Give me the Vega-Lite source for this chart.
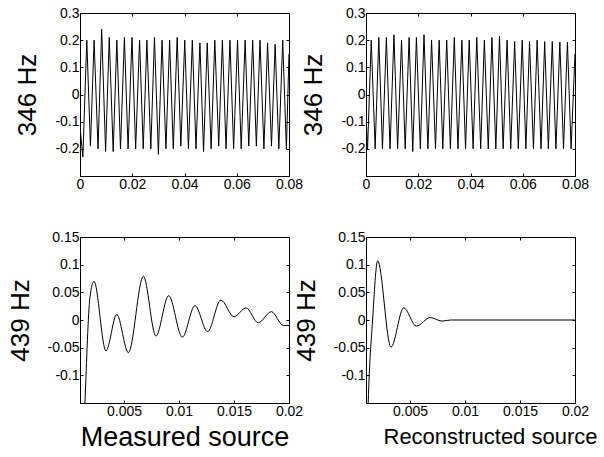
{
  "$schema": "https://vega.github.io/schema/vega-lite/v6.json",
  "background": "white",
  "padding": {"left": 6, "top": 5, "right": 0, "bottom": 5},
  "config": {
    "font": "Liberation Sans",
    "view": {"stroke": "black", "strokeWidth": 1},
    "axis": {
      "domainColor": "black", "tickColor": "black", "labelColor": "black", "titleColor": "black",
      "labelFont": "Liberation Sans", "titleFont": "Liberation Sans",
      "labelFontSize": 14, "titleFontSize": 26, "titleFontWeight": "normal",
      "grid": false, "tickSize": -3, "labelPadding": 4, "labelFlush": false,
      "labelExpr": "'' + datum.value"
    },
    "axisX": {"titlePadding": 6},
    "axisY": {"titlePadding": 14},
    "line": {"color": "black", "strokeWidth": 1}
  },
  "datasets": {
    "m346": [
      {"t": 0, "v": -0.12}, {"t": 0.0011, "v": -0.23},
      {"t": 0.0026, "v": 0.2}, {"t": 0.0040, "v": -0.19},
      {"t": 0.0054, "v": 0.2}, {"t": 0.0069, "v": -0.2},
      {"t": 0.0083, "v": 0.24}, {"t": 0.0098, "v": -0.21},
      {"t": 0.0112, "v": 0.21}, {"t": 0.0127, "v": -0.21},
      {"t": 0.0141, "v": 0.2}, {"t": 0.0155, "v": -0.2},
      {"t": 0.0170, "v": 0.21}, {"t": 0.0184, "v": -0.2},
      {"t": 0.0199, "v": 0.21}, {"t": 0.0213, "v": -0.2},
      {"t": 0.0228, "v": 0.2}, {"t": 0.0242, "v": -0.2},
      {"t": 0.0256, "v": 0.2}, {"t": 0.0271, "v": -0.2},
      {"t": 0.0285, "v": 0.21}, {"t": 0.0300, "v": -0.22},
      {"t": 0.0314, "v": 0.2}, {"t": 0.0329, "v": -0.2},
      {"t": 0.0343, "v": 0.2}, {"t": 0.0357, "v": -0.2},
      {"t": 0.0372, "v": 0.21}, {"t": 0.0386, "v": -0.19},
      {"t": 0.0401, "v": 0.2}, {"t": 0.0415, "v": -0.2},
      {"t": 0.0430, "v": 0.2}, {"t": 0.0444, "v": -0.2},
      {"t": 0.0459, "v": 0.19}, {"t": 0.0473, "v": -0.21},
      {"t": 0.0487, "v": 0.19}, {"t": 0.0502, "v": -0.2},
      {"t": 0.0516, "v": 0.2}, {"t": 0.0531, "v": -0.19},
      {"t": 0.0545, "v": 0.2}, {"t": 0.0559, "v": -0.2},
      {"t": 0.0574, "v": 0.2}, {"t": 0.0588, "v": -0.2},
      {"t": 0.0603, "v": 0.2}, {"t": 0.0617, "v": -0.2},
      {"t": 0.0632, "v": 0.2}, {"t": 0.0646, "v": -0.19},
      {"t": 0.0661, "v": 0.2}, {"t": 0.0675, "v": -0.19},
      {"t": 0.0689, "v": 0.2}, {"t": 0.0704, "v": -0.2},
      {"t": 0.0718, "v": 0.19}, {"t": 0.0733, "v": -0.19},
      {"t": 0.0747, "v": 0.185}, {"t": 0.0761, "v": -0.2},
      {"t": 0.0776, "v": 0.2}, {"t": 0.0790, "v": -0.2},
      {"t": 0.0800, "v": 0.15}
    ],
    "r346": [
      {"t": 0, "v": -0.08}, {"t": 0.0006, "v": -0.2},
      {"t": 0.0020, "v": 0.2}, {"t": 0.0035, "v": -0.2},
      {"t": 0.0049, "v": 0.21}, {"t": 0.0063, "v": -0.2},
      {"t": 0.0078, "v": 0.21}, {"t": 0.0092, "v": -0.2},
      {"t": 0.0107, "v": 0.22}, {"t": 0.0121, "v": -0.2},
      {"t": 0.0136, "v": 0.2}, {"t": 0.0150, "v": -0.2},
      {"t": 0.0165, "v": 0.21}, {"t": 0.0179, "v": -0.21},
      {"t": 0.0193, "v": 0.21}, {"t": 0.0208, "v": -0.2},
      {"t": 0.0222, "v": 0.22}, {"t": 0.0237, "v": -0.2},
      {"t": 0.0251, "v": 0.2}, {"t": 0.0266, "v": -0.2},
      {"t": 0.0280, "v": 0.2}, {"t": 0.0294, "v": -0.2},
      {"t": 0.0309, "v": 0.2}, {"t": 0.0323, "v": -0.2},
      {"t": 0.0338, "v": 0.21}, {"t": 0.0352, "v": -0.2},
      {"t": 0.0367, "v": 0.2}, {"t": 0.0381, "v": -0.2},
      {"t": 0.0395, "v": 0.2}, {"t": 0.0410, "v": -0.2},
      {"t": 0.0424, "v": 0.21}, {"t": 0.0439, "v": -0.2},
      {"t": 0.0453, "v": 0.2}, {"t": 0.0468, "v": -0.2},
      {"t": 0.0482, "v": 0.21}, {"t": 0.0497, "v": -0.2},
      {"t": 0.0511, "v": 0.215}, {"t": 0.0525, "v": -0.2},
      {"t": 0.0540, "v": 0.2}, {"t": 0.0554, "v": -0.2},
      {"t": 0.0569, "v": 0.195}, {"t": 0.0583, "v": -0.2},
      {"t": 0.0598, "v": 0.2}, {"t": 0.0612, "v": -0.2},
      {"t": 0.0626, "v": 0.195}, {"t": 0.0641, "v": -0.2},
      {"t": 0.0655, "v": 0.2}, {"t": 0.0670, "v": -0.2},
      {"t": 0.0684, "v": 0.195}, {"t": 0.0698, "v": -0.2},
      {"t": 0.0713, "v": 0.195}, {"t": 0.0727, "v": -0.2},
      {"t": 0.0742, "v": 0.193}, {"t": 0.0756, "v": -0.2},
      {"t": 0.0771, "v": 0.193}, {"t": 0.0785, "v": -0.2},
      {"t": 0.0800, "v": 0.15}
    ],
    "m439": [
      {"t": 0.0011, "v": -0.35}, {"t": 0.00145, "v": -0.15},
      {"t": 0.0019, "v": 0.04}, {"t": 0.00227, "v": 0.07},
      {"t": 0.00336, "v": -0.056}, {"t": 0.00434, "v": 0.010},
      {"t": 0.0054, "v": -0.059}, {"t": 0.00676, "v": 0.079},
      {"t": 0.0079, "v": -0.029}, {"t": 0.00906, "v": 0.044},
      {"t": 0.0103, "v": -0.031}, {"t": 0.01145, "v": 0.026},
      {"t": 0.0126, "v": -0.021}, {"t": 0.0138, "v": 0.036},
      {"t": 0.0150, "v": 0.006}, {"t": 0.0161, "v": 0.022},
      {"t": 0.0172, "v": -0.005}, {"t": 0.0184, "v": 0.015},
      {"t": 0.0195, "v": -0.01}, {"t": 0.0200, "v": -0.01}
    ],
    "r439": [
      {"t": 0.001, "v": -0.3}, {"t": 0.0012, "v": -0.15},
      {"t": 0.0016, "v": 0.0}, {"t": 0.00206, "v": 0.107},
      {"t": 0.00327, "v": -0.049}, {"t": 0.00443, "v": 0.022},
      {"t": 0.00557, "v": -0.011}, {"t": 0.00685, "v": 0.0045},
      {"t": 0.0079, "v": -0.002}, {"t": 0.0087, "v": 0.0},
      {"t": 0.0200, "v": 0.0}
    ]
  },
  "columns": 2,
  "spacing": {"row": 61, "column": 77},
  "bounds": "flush",
  "concat": [
    {
      "data": {"name": "m346"},
      "width": 209, "height": 163,
      "layer": [
        {
          "mark": {"type": "line", "clip": true},
          "encoding": {
            "x": {"field": "t", "type": "quantitative", "scale": {"domain": [0, 0.08], "nice": false, "zero": false},
                  "axis": {"values": [0, 0.02, 0.04, 0.06, 0.08], "title": null}},
            "y": {"field": "v", "type": "quantitative", "scale": {"domain": [-0.3, 0.3], "nice": false, "zero": false},
                  "axis": {"values": [-0.2, -0.1, 0, 0.1, 0.2, 0.3], "title": "346 Hz"}}
          }
        },
        {
          "mark": {"type": "line", "clip": true, "opacity": 0},
          "encoding": {
            "x": {"field": "t", "type": "quantitative", "scale": {"domain": [0, 0.08], "nice": false, "zero": false},
                  "axis": {"orient": "top", "values": [0, 0.02, 0.04, 0.06, 0.08], "labels": false, "title": null}},
            "y": {"field": "v", "type": "quantitative", "scale": {"domain": [-0.3, 0.3], "nice": false, "zero": false},
                  "axis": {"orient": "right", "values": [-0.2, -0.1, 0, 0.1, 0.2, 0.3], "labels": false, "title": null}}
          }
        }
      ],
      "resolve": {"axis": {"x": "independent", "y": "independent"}}
    },
    {
      "data": {"name": "r346"},
      "width": 209, "height": 163,
      "layer": [
        {
          "mark": {"type": "line", "clip": true},
          "encoding": {
            "x": {"field": "t", "type": "quantitative", "scale": {"domain": [0, 0.08], "nice": false, "zero": false},
                  "axis": {"values": [0, 0.02, 0.04, 0.06, 0.08], "title": null}},
            "y": {"field": "v", "type": "quantitative", "scale": {"domain": [-0.3, 0.3], "nice": false, "zero": false},
                  "axis": {"values": [-0.2, -0.1, 0, 0.1, 0.2, 0.3], "title": "346 Hz"}}
          }
        },
        {
          "mark": {"type": "line", "clip": true, "opacity": 0},
          "encoding": {
            "x": {"field": "t", "type": "quantitative", "scale": {"domain": [0, 0.08], "nice": false, "zero": false},
                  "axis": {"orient": "top", "values": [0, 0.02, 0.04, 0.06, 0.08], "labels": false, "title": null}},
            "y": {"field": "v", "type": "quantitative", "scale": {"domain": [-0.3, 0.3], "nice": false, "zero": false},
                  "axis": {"orient": "right", "values": [-0.2, -0.1, 0, 0.1, 0.2, 0.3], "labels": false, "title": null}}
          }
        }
      ],
      "resolve": {"axis": {"x": "independent", "y": "independent"}}
    },
    {
      "data": {"name": "m439"},
      "width": 209, "height": 166,
      "layer": [
        {
          "mark": {"type": "line", "clip": true, "interpolate": "monotone"},
          "encoding": {
            "x": {"field": "t", "type": "quantitative", "scale": {"domain": [0.001, 0.02], "nice": false, "zero": false},
                  "axis": {"values": [0.005, 0.01, 0.015, 0.02], "title": "Measured source", "titleFontSize": 27}},
            "y": {"field": "v", "type": "quantitative", "scale": {"domain": [-0.15, 0.15], "nice": false, "zero": false},
                  "axis": {"values": [-0.1, -0.05, 0, 0.05, 0.1, 0.15], "title": "439 Hz"}}
          }
        },
        {
          "mark": {"type": "line", "clip": true, "opacity": 0, "interpolate": "monotone"},
          "encoding": {
            "x": {"field": "t", "type": "quantitative", "scale": {"domain": [0.001, 0.02], "nice": false, "zero": false},
                  "axis": {"orient": "top", "values": [0.005, 0.01, 0.015, 0.02], "labels": false, "title": null}},
            "y": {"field": "v", "type": "quantitative", "scale": {"domain": [-0.15, 0.15], "nice": false, "zero": false},
                  "axis": {"orient": "right", "values": [-0.1, -0.05, 0, 0.05, 0.1, 0.15], "labels": false, "title": null}}
          }
        }
      ],
      "resolve": {"axis": {"x": "independent", "y": "independent"}}
    },
    {
      "data": {"name": "r439"},
      "width": 209, "height": 166,
      "layer": [
        {
          "mark": {"type": "line", "clip": true, "interpolate": "monotone"},
          "encoding": {
            "x": {"field": "t", "type": "quantitative", "scale": {"domain": [0.001, 0.02], "nice": false, "zero": false},
                  "axis": {"values": [0.005, 0.01, 0.015, 0.02], "title": "Reconstructed source", "titleFontSize": 22, "titleX": 124, "titlePadding": 8}},
            "y": {"field": "v", "type": "quantitative", "scale": {"domain": [-0.15, 0.15], "nice": false, "zero": false},
                  "axis": {"values": [-0.1, -0.05, 0, 0.05, 0.1, 0.15], "title": "439 Hz"}}
          }
        },
        {
          "mark": {"type": "line", "clip": true, "opacity": 0, "interpolate": "monotone"},
          "encoding": {
            "x": {"field": "t", "type": "quantitative", "scale": {"domain": [0.001, 0.02], "nice": false, "zero": false},
                  "axis": {"orient": "top", "values": [0.005, 0.01, 0.015, 0.02], "labels": false, "title": null}},
            "y": {"field": "v", "type": "quantitative", "scale": {"domain": [-0.15, 0.15], "nice": false, "zero": false},
                  "axis": {"orient": "right", "values": [-0.1, -0.05, 0, 0.05, 0.1, 0.15], "labels": false, "title": null}}
          }
        }
      ],
      "resolve": {"axis": {"x": "independent", "y": "independent"}}
    }
  ]
}
